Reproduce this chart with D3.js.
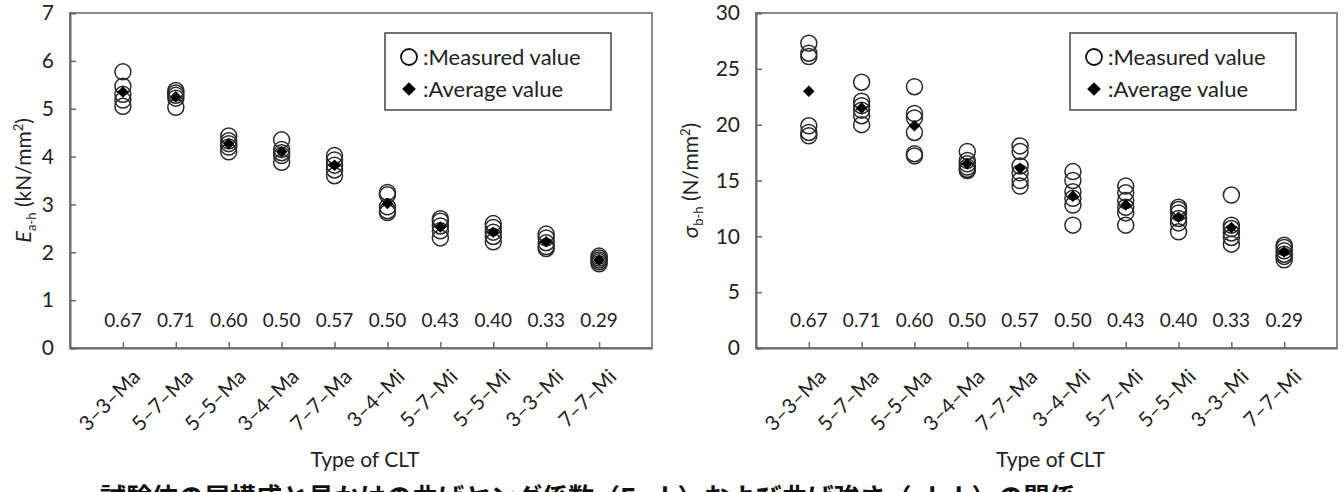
<!DOCTYPE html>
<html>
<head>
<meta charset="utf-8">
<script src="https://cdn.jsdelivr.net/npm/d3@7"></script>
<style>
  body { margin: 0; background: #fff; }
  svg { display: block; font-family: Lato, "Noto Sans", sans-serif; }
</style>
</head>
<body>
<svg id="chart" width="1344" height="492"></svg>
<script>
// categories and ratio labels under the points
const categories = ["3–3–Ma", "5–7–Ma", "5–5–Ma", "3–4–Ma", "7–7–Ma", "3–4–Mi", "5–7–Mi", "5–5–Mi", "3–3–Mi", "7–7–Mi"];
const ratios = ["0.67", "0.71", "0.60", "0.50", "0.57", "0.50", "0.43", "0.40", "0.33", "0.29"];

// E a-h (kN/mm2)
const eMeasured = [
  [5.77, 5.47, 5.30, 5.18, 5.05],
  [5.38, 5.33, 5.28, 5.22, 5.03],
  [4.43, 4.33, 4.27, 4.20, 4.10],
  [4.35, 4.15, 4.08, 4.02, 3.88],
  [4.02, 3.93, 3.82, 3.72, 3.60],
  [3.25, 3.20, 2.95, 2.87, 2.83],
  [2.70, 2.65, 2.55, 2.45, 2.30],
  [2.60, 2.52, 2.42, 2.33, 2.22],
  [2.38, 2.30, 2.20, 2.12, 2.08],
  [1.92, 1.88, 1.84, 1.80, 1.76]
];
const eAverage = [5.35, 5.25, 4.27, 4.10, 3.82, 3.02, 2.53, 2.42, 2.22, 1.84];
const eTicks = [0, 1, 2, 3, 4, 5, 6, 7];

// sigma b-h (N/mm2)
const sMeasured = [
  [27.3, 26.4, 26.1, 19.9, 19.3, 19.0],
  [23.8, 22.1, 21.7, 21.3, 20.8, 20.0],
  [23.4, 21.0, 20.6, 19.3, 17.4, 17.2],
  [17.6, 16.8, 16.5, 16.2, 16.0, 15.9],
  [18.1, 17.6, 16.3, 15.7, 15.0, 14.5],
  [15.8, 15.0, 14.0, 13.4, 12.8, 11.0],
  [14.5, 13.9, 13.2, 12.6, 12.1, 11.0],
  [12.6, 12.4, 12.1, 11.6, 11.2, 10.4],
  [13.7, 11.0, 10.7, 10.3, 9.9, 9.3],
  [9.2, 9.0, 8.7, 8.4, 8.2, 7.9]
];
const sAverage = [23.0, 21.5, 19.9, 16.5, 16.1, 13.6, 12.8, 11.7, 10.8, 8.6];
const sTicks = [0, 5, 10, 15, 20, 25, 30];

const svg = d3.select("#chart");
const axisColor = "#6a6a6a";
const plotTop = 13, plotBottom = 348;

function drawPanel(p) {
  const x = d3.scalePoint().domain(categories).range([p.left, p.right]).padding(1);
  const y = d3.scaleLinear().domain([0, p.max]).range([plotBottom, plotTop]);
  const g = svg.append("g");

  // frame
  g.append("rect")
    .attr("x", p.left).attr("y", plotTop)
    .attr("width", p.right - p.left).attr("height", plotBottom - plotTop)
    .attr("fill", "none").attr("stroke", "#8a8a8a").attr("stroke-width", 2);

  const yAxis = g.append("g")
    .attr("transform", `translate(${p.left},0)`)
    .call(d3.axisLeft(y).tickValues(p.ticks).tickFormat(d3.format("d")).tickSize(-6).tickPadding(16));
  yAxis.select(".domain").attr("stroke", axisColor).attr("stroke-width", 2);
  yAxis.selectAll(".tick line").attr("stroke", axisColor).attr("stroke-width", 1.5);
  yAxis.selectAll("text").attr("font-size", 21).attr("fill", "#222").attr("font-family", "Lato");

  const xAxis = g.append("g")
    .attr("transform", `translate(0,${plotBottom})`)
    .call(d3.axisBottom(x).tickSize(-6).tickSizeOuter(0));
  xAxis.select(".domain").attr("stroke", axisColor).attr("stroke-width", 2);
  xAxis.selectAll(".tick line").attr("stroke", axisColor).attr("stroke-width", 1.5);
  xAxis.selectAll("text")
    .attr("font-size", 20.5).attr("fill", "#222").attr("font-family", "Lato")
    .attr("text-anchor", "end")
    .attr("transform", "translate(13,25) rotate(-45)")
    .attr("x", 0).attr("y", 0).attr("dy", "0.35em");

  // ratio labels
  g.selectAll(".ratio").data(ratios).join("text")
    .attr("x", (d, i) => x(categories[i]))
    .attr("y", 327)
    .attr("text-anchor", "middle")
    .attr("font-size", 19).attr("fill", "#222")
    .text(d => d);

  // measured points
  const pts = [];
  p.measured.forEach((arr, i) => arr.forEach(v => pts.push({ c: categories[i], v })));
  g.selectAll(".m").data(pts).join("circle")
    .attr("cx", d => x(d.c)).attr("cy", d => y(d.v))
    .attr("r", 8)
    .attr("fill", "none").attr("stroke", "#2a2a2a").attr("stroke-width", 1.5);

  // average diamonds
  const diamond = d3.symbol(d3.symbolDiamond2, 85);
  g.selectAll(".a").data(p.average).join("path")
    .attr("d", diamond)
    .attr("transform", (d, i) => `translate(${x(categories[i])},${y(d)})`)
    .attr("fill", "#000");

  // legend
  const lg = g.append("g").attr("transform", `translate(${p.legendX},33)`);
  lg.append("rect").attr("width", 226).attr("height", 77)
    .attr("fill", "#fff").attr("stroke", "#444").attr("stroke-width", 1.5);
  lg.append("circle").attr("cx", 24).attr("cy", 24).attr("r", 8)
    .attr("fill", "none").attr("stroke", "#111").attr("stroke-width", 1.8);
  lg.append("path").attr("d", d3.symbol(d3.symbolDiamond2, 120))
    .attr("transform", "translate(24,56)").attr("fill", "#000");
  lg.append("text").attr("x", 38).attr("y", 32).attr("font-size", 22).attr("fill", "#222")
    .text(":Measured value");
  lg.append("text").attr("x", 38).attr("y", 64).attr("font-size", 22).attr("fill", "#222")
    .text(":Average value");

  // x title
  g.append("text")
    .attr("x", (p.left + p.right) / 2 + 4).attr("y", 467)
    .attr("text-anchor", "middle").attr("font-size", 21).attr("fill", "#222")
    .text("Type of CLT");

  // y title
  const yt = g.append("text")
    .attr("transform", `translate(${p.titleX},${(plotTop + plotBottom) / 2}) rotate(-90)`)
    .attr("text-anchor", "middle").attr("font-size", 21).attr("fill", "#222");
  yt.append("tspan").attr("font-style", "italic").attr("font-size", 22).text(p.sym);
  yt.append("tspan").attr("font-size", 13).attr("dy", 5).text(p.sub);
  yt.append("tspan").attr("dy", -5).text(p.unit);
  yt.append("tspan").attr("font-size", 13).attr("dy", -8).text("2");
  yt.append("tspan").attr("dy", 8).text(")");
}

drawPanel({ left: 70, right: 652, max: 7, ticks: eTicks, measured: eMeasured, average: eAverage,
  legendX: 385, titleX: 31, sym: "E", sub: "a-h", unit: " (kN/mm" });
drawPanel({ left: 756, right: 1337, max: 30, ticks: sTicks, measured: sMeasured, average: sAverage,
  legendX: 1070, titleX: 698, sym: "σ", sub: "b-h", unit: " (N/mm" });

// caption, cut off by the bottom edge as in the source picture
svg.append("text")
  .attr("x", 100).attr("y", 507)
  .attr("font-family", "Noto Sans CJK JP").attr("font-weight", "bold")
  .attr("font-size", 26).attr("fill", "#111")
  .text("試験体の層構成と見かけの曲げヤング係数（Ea-h）および曲げ強さ（σb-h）の関係");
</script>
</body>
</html>
